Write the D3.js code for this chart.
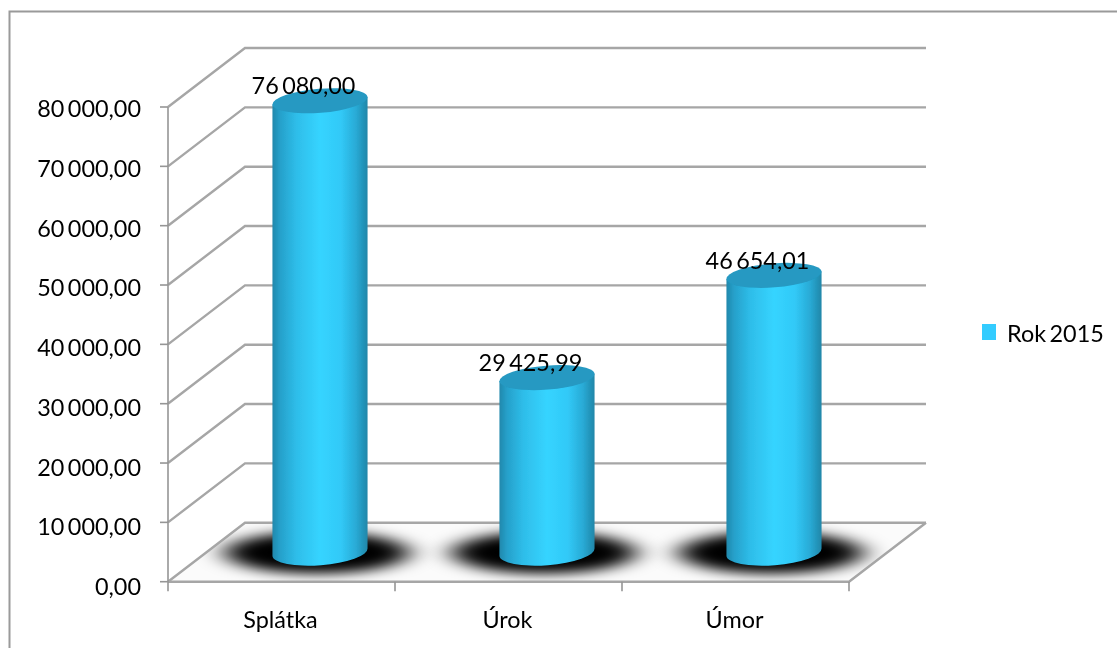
<!DOCTYPE html>
<html><head><meta charset="utf-8">
<script src="https://cdn.jsdelivr.net/npm/d3@7"></script>
<style>html,body{margin:0;padding:0;background:#fff;overflow:hidden}svg{display:block}text{font-family:Lato,"Open Sans",sans-serif;fill:#000;word-spacing:-2.5px}</style>
</head><body><svg id="c" width="1117" height="648"></svg>
<script>
const categories = ["Splátka", "Úrok", "Úmor"];
const seriesName = "Rok 2015";
const values = [76080.00, 29425.99, 46654.01];
const valueLabels = ["76 080,00", "29 425,99", "46 654,01"];
const axisTicks = [0, 10000, 20000, 30000, 40000, 50000, 60000, 70000, 80000];
const tickLabels = ["0,00", "10 000,00", "20 000,00", "30 000,00", "40 000,00", "50 000,00", "60 000,00", "70 000,00", "80 000,00"];

const svg = d3.select("#c");
const dx = 77, dy = -59;
const FS = 23.4;
const y = d3.scaleLinear().domain([0, 80000]).range([581.7, 107]);
const yLabel = d3.scaleLinear().domain([0, 80000]).range([595, 117]);
const x = d3.scaleBand().domain(categories).range([168, 849]);
const GREY = "#a6a6a6";
const defs = svg.append("defs");
const addBlur = (id, sd, fy, fh) => defs.append("filter").attr("id",id).attr("filterUnits","userSpaceOnUse")
  .attr("x",0).attr("y",fy).attr("width",1117).attr("height",fh)
  .append("feGaussianBlur").attr("stdDeviation",sd);
addBlur("soft", 0.7, 0, 648);
addBlur("softT", 0.35, 0, 648);
addBlur("softB", 0.7, 0, 648);
addBlur("shadow", "14 6", 400, 248);
const side = defs.append("linearGradient").attr("id","side").attr("x1",0).attr("x2",1).attr("y1",0).attr("y2",0);
[[0,"#2088ac"],[0.08,"#26a0ca"],[0.25,"#2ebde9"],[0.5,"#36d4ff"],[0.72,"#31c9f7"],[0.88,"#29aad5"],[1,"#1f86a8"]].forEach(s=>side.append("stop").attr("offset",s[0]).attr("stop-color",s[1]));
const floorD = `M168,${y(0)}L849,${y(0)}L926,${y(0)+dy}L245,${y(0)+dy}Z`;
defs.append("clipPath").attr("id","floorClip").append("path").attr("d",floorD);

// frame: only the left and top edges fall inside the picture
svg.append("path").attr("d","M9.5,648V11.5H1117").attr("fill","none").attr("stroke","#9a9a9a").attr("stroke-width",2).attr("filter","url(#soft)");

// floor + shadows
const g0 = svg.append("g");
g0.append("path").attr("d",floorD).attr("fill","#fbfbfb");
const shadows = g0.append("g").attr("clip-path","url(#floorClip)");
categories.forEach(c=>{
  shadows.append("ellipse").attr("cx",x(c)+x.bandwidth()/2+dx/2-3).attr("cy",y(0)+dy/2+0.5)
    .attr("rx",92).attr("ry",21).attr("fill","#000").attr("filter","url(#shadow)");
});

// grid
const grid = svg.append("g").attr("filter","url(#soft)").attr("fill","none").attr("stroke",GREY).attr("stroke-width",2.4);
axisTicks.forEach(t=>{
  const yf = y(t);
  grid.append("path").attr("d",`M168,${yf}L245,${yf+dy}L926,${yf+dy}`);
});
grid.append("path").attr("d",`M168,${y(0)}L849,${y(0)}L926,${y(0)+dy}`);

// axis
const axisG = svg.append("g").attr("stroke","#959595").attr("stroke-width",1.6).attr("fill","none");
axisG.append("path").attr("d",`M168,${y(0)}V${y(80000)}`);
axisTicks.forEach(t=>axisG.append("path").attr("d",`M160,${y(t)}H168`));
[...categories.map(c=>x(c)), 849].forEach(v=>axisG.append("path").attr("d",`M${v},${y(0)}v9.5`));

// cylinders
const rx = 47.7, ry = 12, rot = -4.5, a = rot*Math.PI/180;
const bars = svg.append("g").attr("filter","url(#softB)");
categories.forEach((c,i)=>{
  const cx = x(c)+x.bandwidth()/2+dx/2;
  const by = y(0)+dy/2, ty = y(values[i])+dy/2;
  const ex = rx*Math.cos(a), ey = rx*Math.sin(a);
  bars.append("path").attr("d",`M${cx-ex},${ty-ey}L${cx-ex},${by-ey}A${rx},${ry+1} ${rot} 0 0 ${cx+ex},${by+ey}L${cx+ex},${ty+ey}Z`).attr("fill","url(#side)");
  bars.append("ellipse").attr("rx",rx).attr("ry",ry).attr("transform",`translate(${cx},${ty}) rotate(${rot})`).attr("fill","#2599c2");
});

const lab = svg.append("g").attr("filter","url(#softT)").attr("font-size",FS);
axisTicks.forEach((t,i)=>lab.append("text").attr("x",141).attr("y",yLabel(t)).attr("text-anchor","end").text(tickLabels[i]));
categories.forEach(c=>lab.append("text").attr("x",x(c)+x.bandwidth()/2-1).attr("y",628).attr("text-anchor","middle").text(c));
categories.forEach((c,i)=>{
  const cx = x(c)+x.bandwidth()/2+dx/2;
  lab.append("text").attr("x",cx-16.5).attr("y",y(values[i])+dy/2-6.5).attr("text-anchor","middle").text(valueLabels[i]);
});

// legend
svg.append("rect").attr("x",982).attr("y",324).attr("width",14).attr("height",16).attr("fill","#33ccff");
lab.append("text").attr("x",1007).attr("y",342).text(seriesName);
</script></body></html>
